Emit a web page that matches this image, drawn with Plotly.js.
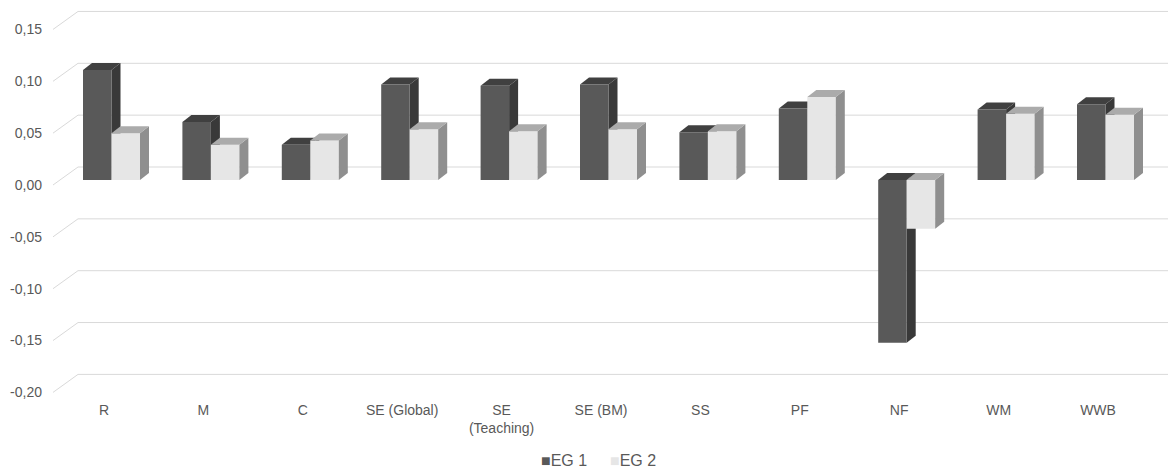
<!DOCTYPE html>
<html>
<head>
<meta charset="utf-8">
<script src="https://cdn.plot.ly/plotly-3.0.1.min.js"></script>
<style>
  html, body { margin: 0; padding: 0; background: #ffffff; }
  #chart { width: 1168px; height: 470px; }
</style>
</head>
<body>
<div id="chart"></div>
<script>
// Effect sizes per scale for the two experimental groups
const categories = ['R', 'M', 'C', 'SE (Global)', 'SE<br>(Teaching)', 'SE (BM)', 'SS', 'PF', 'NF', 'WM', 'WWB'];
const eg1 = [0.106, 0.056, 0.034, 0.092, 0.091, 0.092, 0.046, 0.069, -0.157, 0.068, 0.073];
const eg2 = [0.045, 0.034, 0.038, 0.049, 0.047, 0.049, 0.047, 0.080, -0.047, 0.064, 0.063];
const seriesNames = ['EG 1', 'EG 2'];
const yTickVals = [-0.20, -0.15, -0.10, -0.05, 0.00, 0.05, 0.10, 0.15];
const yTickText = ['-0,20', '-0,15', '-0,10', '-0,05', '0,00', '0,05', '0,10', '0,15'];

// Colours: front, top and side faces of each series
const col1 = { front: '#595959', top: '#404040', side: '#393939' };
const col2 = { front: '#e6e6e6', top: '#ababab', side: '#8f8f8f' };

// Plot geometry (pixels -> data units)
const marginL = 53, marginT = 2, marginB = 70;
const plotW = 1168 - marginL, plotH = 470 - marginT - marginB;
const pxPerCat = 99.4;
const xRange = [-51 / pxPerCat, -51 / pxPerCat + plotW / pxPerCat];
const pxPerUnit = 1037;
const yRange = [-(plotH - 178) / pxPerUnit, 178 / pxPerUnit];

const barW = 28.5 / pxPerCat;
const off1 = -21 / pxPerCat;
const off2 = off1 + barW;
const dX = 9 / pxPerCat;      // depth of the 3-D faces, horizontal
const dY = 7 / pxPerUnit;     // depth of the 3-D faces, vertical

const idx = categories.map((_, i) => i);

// Back wall gridlines with the oblique floor segments on the left
const shapes = [];
const wallLift = 13 / pxPerUnit;
const frontDrop = 5 / pxPerUnit;
const wallX = xRange[0] + 25 / pxPerCat;
yTickVals.forEach(v => {
  shapes.push({
    type: 'line', xref: 'x', yref: 'y', layer: 'below',
    x0: xRange[0], y0: v - frontDrop, x1: wallX, y1: v + wallLift,
    line: { color: '#d9d9d9', width: 1 }
  });
  shapes.push({
    type: 'line', xref: 'x', yref: 'y', layer: 'below',
    x0: wallX, y0: v + wallLift, x1: xRange[1], y1: v + wallLift,
    line: { color: '#d9d9d9', width: 1 }
  });
});

// Side and top faces of the columns
function addFaces(vals, off, col, layer) {
  vals.forEach((v, i) => {
    const xl = i + off, xr = xl + barW;
    const lo = Math.min(0, v), hi = Math.max(0, v);
    shapes.push({
      type: 'path', xref: 'x', yref: 'y', layer: layer,
      path: `M${xr},${lo} L${xr + dX},${lo + dY} L${xr + dX},${hi + dY} L${xr},${hi} Z`,
      fillcolor: col.side, line: { width: 0 }
    });
    shapes.push({
      type: 'path', xref: 'x', yref: 'y', layer: layer,
      path: `M${xl},${hi} L${xl + dX},${hi + dY} L${xr + dX},${hi + dY} L${xr},${hi} Z`,
      fillcolor: col.top, line: { width: 0 }
    });
  });
}
addFaces(eg1, off1, col1, 'below');
addFaces(eg2, off2, col2, 'above');

const traces = [
  {
    type: 'bar', name: seriesNames[0], x: idx, y: eg1,
    offset: off1, width: barW,
    marker: { color: col1.front, line: { width: 0 } },
    showlegend: false, hoverinfo: 'y'
  },
  {
    type: 'bar', name: seriesNames[1], x: idx, y: eg2,
    offset: off2, width: barW,
    marker: { color: col2.front, line: { width: 0 } },
    showlegend: false, hoverinfo: 'y'
  }
];

const textFont = { family: 'Liberation Sans, Arial, sans-serif', size: 14, color: '#595959' };

// Legend entries drawn as text with coloured square glyphs
const legendY = -(460 - (marginT + plotH)) / plotH;
const legendFont = { family: textFont.family, size: 16, color: '#595959' };
const annotations = [
  {
    xref: 'paper', yref: 'paper', x: (539 - marginL) / plotW, y: legendY,
    xanchor: 'left', yanchor: 'middle', showarrow: false,
    text: `<span style="color:${col1.front}">■</span>${seriesNames[0]}`,
    font: legendFont
  },
  {
    xref: 'paper', yref: 'paper', x: (608 - marginL) / plotW, y: legendY,
    xanchor: 'left', yanchor: 'middle', showarrow: false,
    text: `<span style="color:${col2.front}">■</span>${seriesNames[1]}`,
    font: legendFont
  }
];

const layout = {
  width: 1168, height: 470,
  margin: { l: marginL, r: 0, t: marginT, b: marginB, pad: 0 },
  paper_bgcolor: '#ffffff', plot_bgcolor: 'rgba(0,0,0,0)',
  barmode: 'overlay',
  showlegend: false,
  font: textFont,
  xaxis: {
    type: 'linear', range: xRange, fixedrange: true,
    tickmode: 'array', tickvals: idx, ticktext: categories,
    showgrid: false, zeroline: false, showline: false, ticks: '',
    tickfont: textFont
  },
  yaxis: {
    type: 'linear', range: yRange, fixedrange: true,
    tickmode: 'array', tickvals: yTickVals, ticktext: yTickText,
    showgrid: false, zeroline: false, showline: false, ticks: '',
    ticklabelstandoff: 10, ticklabelshift: 5,
    tickfont: textFont
  },
  shapes: shapes,
  annotations: annotations
};

Plotly.newPlot('chart', traces, layout, { displayModeBar: false, staticPlot: true });
</script>
</body>
</html>
